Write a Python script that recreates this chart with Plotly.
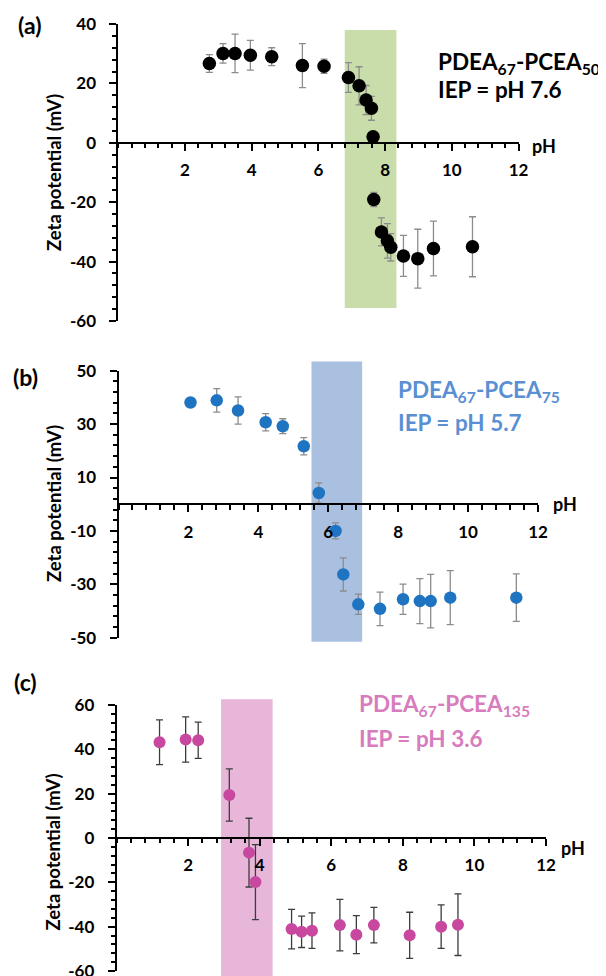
import plotly.graph_objects as go

W, H = 606, 976

# ---------------- data ----------------
# (a) PDEA67-PCEA50
a_ph = [2.73, 3.14, 3.50, 3.96, 4.60, 5.52, 6.17, 6.90, 7.22, 7.43, 7.59, 7.64, 7.66, 7.89, 8.07, 8.17, 8.55, 8.98, 9.45, 10.62]
a_zeta = [26.7, 30.1, 30.1, 29.5, 29.0, 26.0, 25.8, 22.0, 19.2, 14.4, 11.6, 2.0, -19.1, -30.0, -33.0, -35.2, -38.1, -39.0, -35.6, -35.0]
a_err = [3.0, 3.3, 6.5, 5.0, 3.0, 7.4, 2.4, 5.0, 6.4, 4.9, 4.0, 0.0, 2.4, 4.7, 5.8, 4.6, 6.9, 9.9, 9.2, 10.1]
a_band_ph = [6.79, 8.34]
a_band_zeta = [-55.6, 38.0]
a_name = "PDEA<sub>67</sub>-PCEA<sub>50</sub>"
a_iep = "IEP = pH 7.6"

# (b) PDEA67-PCEA75
b_ph = [2.06, 2.81, 3.42, 4.21, 4.70, 5.30, 5.73, 6.21, 6.43, 6.86, 7.48, 8.14, 8.62, 8.93, 9.49, 11.38]
b_zeta = [38.1, 38.9, 35.1, 30.7, 29.2, 21.7, 4.2, -10.0, -26.3, -37.5, -39.2, -35.6, -36.3, -36.3, -35.0, -35.0]
b_err = [0.0, 4.4, 5.1, 3.2, 2.8, 3.2, 3.8, 3.0, 6.2, 3.8, 6.3, 5.7, 8.4, 10.0, 10.1, 8.9]
b_band_ph = [5.52, 6.97]
b_band_zeta = [-51.5, 53.4]
b_name = "PDEA<sub>67</sub>-PCEA<sub>75</sub>"
b_iep = "IEP = pH 5.7"

# (c) PDEA67-PCEA135
c_ph = [1.20, 1.93, 2.28, 3.15, 3.70, 3.88, 4.89, 5.17, 5.46, 6.24, 6.70, 7.19, 8.19, 9.07, 9.54]
c_zeta = [43.2, 44.4, 44.1, 19.4, -6.6, -19.9, -41.1, -42.3, -41.8, -39.3, -43.6, -39.3, -43.9, -40.0, -39.1]
c_err = [10.1, 10.2, 8.2, 11.8, 15.5, 16.9, 8.9, 7.1, 8.0, 11.6, 8.6, 8.0, 10.4, 9.8, 13.9]
c_band_ph = [2.92, 4.36]
c_band_zeta = [-66.0, 62.6]
c_name = "PDEA<sub>67</sub>-PCEA<sub>135</sub>"
c_iep = "IEP = pH 3.6"

x_ticks = [2, 4, 6, 8, 10, 12]
a_yticks = [-60, -40, -20, 0, 20, 40]
b_yticks = [-50, -30, -10, 10, 30, 50]
c_yticks = [-60, -40, -20, 0, 20, 40, 60]
x_title = "pH"
y_title = "Zeta potential (mV)"
panel_tags = ["(a)", "(b)", "(c)"]

# ---------------- styling / layout ----------------
FONT = "Lato, 'Open Sans', sans-serif"
OFF = 8.0  # default page body margin; layout positions are compensated for it


def fx(p):
    return (p - OFF) / W


def fy(p):
    return 1 - (p - OFF) / H


panels = [
    dict(ph=a_ph, z=a_zeta, e=a_err, band_x=a_band_ph, band_y=a_band_zeta,
         name=a_name, iep=a_iep, tag=panel_tags[0], yticks=a_yticks,
         mcol="#000000", ecol="#8c8c8c", msize=13.5,
         bandcol="#c9ddab", txtcol="#000000",
         xdom=(118.3, 518.5), ydom=(24.0, 321.0), yr=(-60, 40),
         txt_x=436.0, txt_y1=63.0, txt_y2=90.0,
         tag_xy=(29.0, 25.0), ph_xy=(530.0, 146.0), ytitle_xy=(54.0, 173.0)),
    dict(ph=b_ph, z=b_zeta, e=b_err, band_x=b_band_ph, band_y=b_band_zeta,
         name=b_name, iep=b_iep, tag=panel_tags[1], yticks=b_yticks,
         mcol="#1f74c2", ecol="#8c8c8c", msize=12.5,
         bandcol="#a9c0e0", txtcol="#5a8fd3",
         xdom=(118.5, 538.0), ydom=(370.7, 637.7), yr=(-50, 50),
         txt_x=395.5, txt_y1=391.0, txt_y2=423.0,
         tag_xy=(25.0, 376.5), ph_xy=(551.0, 504.0), ytitle_xy=(54.0, 504.0)),
    dict(ph=c_ph, z=c_zeta, e=c_err, band_x=c_band_ph, band_y=c_band_zeta,
         name=c_name, iep=c_iep, tag=panel_tags[2], yticks=c_yticks,
         mcol="#c8479f", ecol="#3c3c3c", msize=12,
         bandcol="#e7b6d8", txtcol="#d77cbc",
         xdom=(116.6, 546.0), ydom=(705.0, 971.0), yr=(-60, 60),
         txt_x=357.0, txt_y1=705.0, txt_y2=738.0,
         tag_xy=(25.0, 681.5), ph_xy=(559.0, 848.0), ytitle_xy=(52.0, 852.5)),
]

fig = go.Figure()
layout = dict(
    width=W, height=H, margin=dict(l=0, r=0, t=0, b=0, autoexpand=False),
    paper_bgcolor="white", plot_bgcolor="rgba(0,0,0,0)",
    showlegend=False, font=dict(family=FONT, color="black"),
)
shapes = []
annotations = []

for i, p in enumerate(panels, start=1):
    sfx = "" if i == 1 else str(i)
    xa, ya = "x" + sfx, "y" + sfx
    fig.add_trace(go.Scatter(
        x=p["ph"], y=p["z"], mode="markers", xaxis=xa, yaxis=ya,
        marker=dict(color=p["mcol"], size=p["msize"], line=dict(width=0)),
        error_y=dict(type="data", array=p["e"], visible=True,
                     color=p["ecol"], thickness=1.3, width=3.5),
        cliponaxis=False,
    ))
    ymin, ymax = p["yr"]
    ydom = (fy(p["ydom"][1]), fy(p["ydom"][0]))
    xdom = (fx(p["xdom"][0]), fx(p["xdom"][1]))
    zero_pos = ydom[0] + (0 - ymin) / (ymax - ymin) * (ydom[1] - ydom[0])

    layout["xaxis" + sfx] = dict(
        domain=list(xdom), range=[0, 12], anchor="free", position=zero_pos,
        automargin=False,
        showline=True, linecolor="black", linewidth=1.8,
        showgrid=False, zeroline=False,
        tickmode="array", tickvals=x_ticks, ticktext=[str(t) for t in x_ticks],
        ticks="outside", ticklen=7, tickwidth=1.6, tickcolor="black",
        ticklabelstandoff=5,
        tickfont=dict(family=FONT, size=17, color="black", weight=700),
        minor=dict(tickmode="linear", tick0=0, dtick=0.4, ticks="outside",
                   ticklen=4.5, tickwidth=1.5, tickcolor="black", showgrid=False),
        fixedrange=True,
    )
    layout["yaxis" + sfx] = dict(
        domain=list(ydom), range=[ymin, ymax], anchor=xa,
        automargin=False,
        showline=True, linecolor="black", linewidth=1.8,
        showgrid=False, zeroline=False,
        tickmode="array", tickvals=p["yticks"],
        ticktext=[str(v) for v in p["yticks"]],
        ticks="outside", ticklen=7, tickwidth=1.6, tickcolor="black",
        ticklabelstandoff=10,
        tickfont=dict(family=FONT, size=17, color="black", weight=700),
        minor=dict(tickmode="linear", tick0=p["yticks"][0], dtick=4, ticks="outside",
                   ticklen=4, tickwidth=1.5, tickcolor="black", showgrid=False),
        fixedrange=True,
    )

    # IEP band (converted to axis-domain fractions so it is not clipped)
    bx0, bx1 = p["band_x"]
    by0, by1 = p["band_y"]
    shapes.append(dict(
        type="rect", xref=xa + " domain", yref=ya + " domain",
        x0=bx0 / 12.0, x1=bx1 / 12.0,
        y0=(by0 - ymin) / (ymax - ymin), y1=(by1 - ymin) / (ymax - ymin),
        fillcolor=p["bandcol"], line=dict(width=0), layer="below",
    ))

    tf = dict(family=FONT, size=22.5, color=p["txtcol"], weight=700)
    annotations.append(dict(text=p["name"], x=fx(p["txt_x"]), y=fy(p["txt_y1"]),
                            xref="paper", yref="paper", xanchor="left", yanchor="middle",
                            showarrow=False, font=tf))
    annotations.append(dict(text=p["iep"], x=fx(p["txt_x"]), y=fy(p["txt_y2"]),
                            xref="paper", yref="paper", xanchor="left", yanchor="middle",
                            showarrow=False, font=tf))
    annotations.append(dict(text=p["tag"], x=fx(p["tag_xy"][0]), y=fy(p["tag_xy"][1]),
                            xref="paper", yref="paper", xanchor="center", yanchor="middle",
                            showarrow=False,
                            font=dict(family=FONT, size=23, color="black", weight=700)))
    annotations.append(dict(text=x_title, x=fx(p["ph_xy"][0]), y=fy(p["ph_xy"][1]),
                            xref="paper", yref="paper", xanchor="left", yanchor="middle",
                            showarrow=False,
                            font=dict(family=FONT, size=18, color="black", weight=700)))
    annotations.append(dict(text=y_title, x=fx(p["ytitle_xy"][0]), y=fy(p["ytitle_xy"][1]),
                            xref="paper", yref="paper", xanchor="center", yanchor="middle",
                            textangle=-90, showarrow=False,
                            font=dict(family=FONT, size=18.5, color="black", weight=700)))

layout["shapes"] = shapes
layout["annotations"] = annotations
fig.update_layout(**layout)
fig.write_html("out.html")
